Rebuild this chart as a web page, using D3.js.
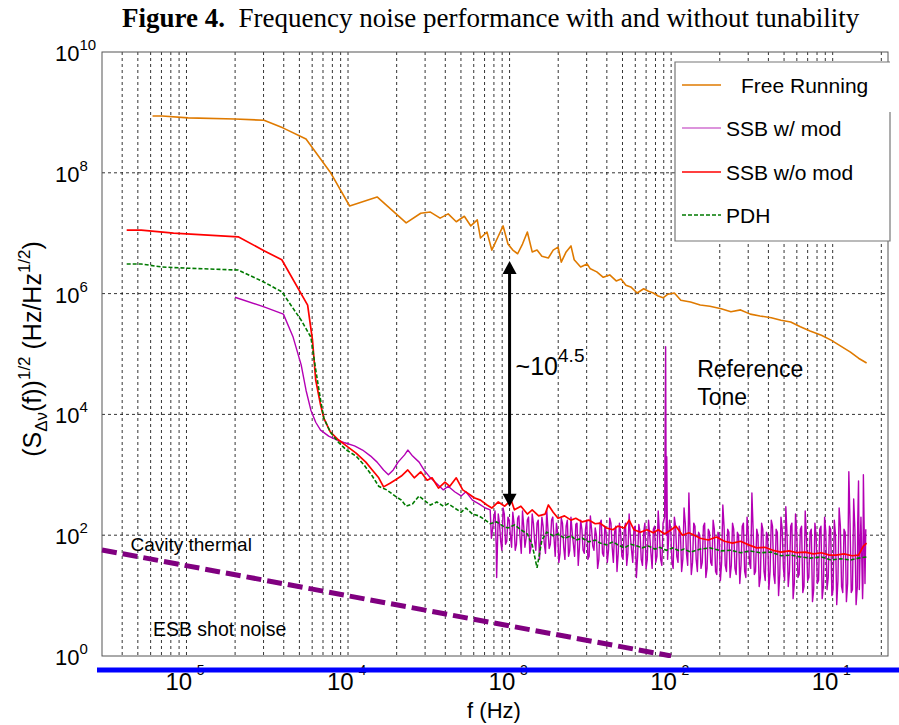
<!DOCTYPE html>
<html><head><meta charset="utf-8">
<script src="https://cdn.jsdelivr.net/npm/d3@7"></script>
<style>body{margin:0;background:#fff}text{white-space:pre}</style>
</head><body><svg id="c" width="899" height="725"></svg>
<script>
// ---------- DATA (log10 of frequency in Hz, log10 of noise in Hz/Hz^1/2) ----------
const freeRunLogF = [-5.21,-5.15,-4.99,-4.70,-4.52,-4.40,-4.26,-4.11,-3.99,-3.82,-3.64,-3.55,-3.49,-3.43,-3.38,-3.33,-3.28,-3.24,-3.20,-3.18,-3.14,-3.11,-3.07,-3.04,-3.01,-2.98,-2.95,-2.92,-2.89,-2.86,-2.83,-2.80,-2.76,-2.73,-2.70,-2.68,-2.65,-2.62,-2.60,-2.56,-2.52,-2.50,-2.46,-2.42,-2.38,-2.34,-2.31,-2.28,-2.25,-2.21,-2.17,-2.14,-2.11,-2.08,-2.05,-2.02,-1.98,-1.94,-1.88,-1.82,-1.76,-1.69,-1.63,-1.57,-1.51,-1.45,-1.38,-1.32,-1.26,-1.20,-1.14,-1.07,-1.01,-0.95,-0.89,-0.84,-0.79];
const freeRunLogS = [8.94,8.94,8.91,8.89,8.87,8.74,8.56,8.01,7.45,7.60,7.17,7.33,7.35,7.25,7.32,7.19,7.28,7.12,7.22,6.92,7.02,6.72,6.95,7.12,6.82,6.72,6.66,6.82,7.02,6.69,6.72,6.62,6.59,6.72,6.77,6.52,6.69,6.79,6.56,6.44,6.49,6.41,6.36,6.27,6.31,6.21,6.24,6.14,6.11,6.01,6.08,6.04,6.01,5.96,5.93,5.99,6.01,5.89,5.86,5.81,5.79,5.75,5.70,5.73,5.66,5.63,5.60,5.56,5.53,5.45,5.38,5.31,5.23,5.13,5.03,4.93,4.85];

const ssbModLogF = [-4.70,-4.52,-4.40,-4.34,-4.29,-4.26,-4.23,-4.20,-4.17,-4.12,-4.07,-4.02,-3.96,-3.91,-3.86,-3.82,-3.78,-3.75,-3.72,-3.69,-3.65,-3.63,-3.60,-3.56,-3.53,-3.49,-3.45,-3.41,-3.38,-3.34,-3.30,-3.27,-3.23,-3.19,-3.15];
const ssbModLogS = [5.94,5.78,5.66,5.28,4.82,4.40,4.07,3.87,3.74,3.64,3.58,3.53,3.48,3.41,3.31,3.21,3.08,3.00,3.08,3.21,3.33,3.41,3.31,3.21,3.08,2.95,2.85,2.75,2.81,2.72,2.65,2.72,2.58,2.52,2.45];
// noisy high-frequency part of "SSB w/ mod" [log f, log S]
const ssbModNoise = [
[-3.12,2.42],[-3.105,2.10],[-3.09,2.40],[-3.08,1.30],[-3.07,2.35],[-3.055,1.90],[-3.04,2.45],[-3.025,1.85],[-3.01,2.30],[-2.995,2.00],
[-2.98,2.38],[-2.965,1.75],[-2.95,2.28],[-2.935,1.95],[-2.92,2.40],[-2.905,1.80],[-2.89,2.25],[-2.875,1.70],[-2.86,2.35],[-2.845,1.90],
[-2.83,2.20],[-2.815,1.60],[-2.80,2.30],[-2.785,1.85],[-2.77,2.42],[-2.755,1.78],[-2.74,2.25],[-2.725,1.95],[-2.71,2.20],[-2.695,1.55],
[-2.68,2.28],[-2.665,1.80],[-2.65,2.15],[-2.635,1.65],[-2.62,2.30],[-2.605,1.85],[-2.59,2.18],[-2.575,1.50],[-2.56,2.25],[-2.545,1.75],
[-2.53,2.10],[-2.515,1.60],[-2.50,2.32],[-2.485,1.82],[-2.47,2.12],[-2.455,1.45],[-2.44,2.20],[-2.425,1.70],[-2.41,2.15],[-2.395,1.55],
[-2.38,2.28],[-2.365,1.80],[-2.35,2.05],[-2.335,1.40],[-2.32,2.20],[-2.305,1.65],[-2.29,2.10],[-2.275,1.50],[-2.26,2.35],[-2.245,1.75],
[-2.23,2.12],[-2.215,1.30],[-2.20,2.18],[-2.185,1.60],[-2.17,2.05],[-2.155,1.45],[-2.14,2.25],[-2.125,1.70],[-2.11,2.10],[-2.095,1.55],
[-2.08,2.40],[-2.065,1.60],[-2.05,2.20],[-2.04,2.30],[-2.034,5.12],[-2.03,2.00],[-2.027,3.30],[-2.022,1.60],[-2.01,2.25],[-1.995,1.55],
[-1.98,2.30],[-1.965,1.65],[-1.95,2.15],[-1.935,1.40],[-1.92,2.45],[-1.905,1.70],[-1.89,2.70],[-1.875,1.35],[-1.86,2.20],[-1.845,1.60],
[-1.83,2.05],[-1.815,1.45],[-1.80,2.15],[-1.785,1.30],[-1.77,2.10],[-1.755,1.55],[-1.74,2.25],[-1.725,1.40],[-1.71,2.05],[-1.695,1.25],
[-1.68,2.50],[-1.665,1.50],[-1.65,2.10],[-1.635,1.30],[-1.62,2.20],[-1.605,1.45],[-1.59,2.05],[-1.575,1.20],[-1.56,2.15],[-1.545,1.40],
[-1.53,2.30],[-1.515,1.55],[-1.50,2.70],[-1.485,1.35],[-1.47,2.10],[-1.455,1.15],[-1.44,2.20],[-1.425,1.40],[-1.41,2.05],[-1.395,1.10],
[-1.38,2.25],[-1.365,1.35],[-1.35,2.10],[-1.335,1.00],[-1.32,2.30],[-1.305,1.45],[-1.29,2.47],[-1.275,1.15],[-1.26,2.15],[-1.245,0.95],
[-1.23,2.35],[-1.215,1.30],[-1.20,2.10],[-1.185,1.05],[-1.17,2.40],[-1.155,1.25],[-1.14,2.05],[-1.125,0.90],[-1.11,2.20],[-1.095,1.20],
[-1.08,2.10],[-1.065,0.95],[-1.05,2.30],[-1.035,1.10],[-1.02,2.15],[-1.005,1.00],[-0.99,2.25],[-0.975,0.85],[-0.96,2.45],[-0.945,1.15],
[-0.93,2.10],[-0.915,0.90],[-0.90,3.05],[-0.885,1.05],[-0.87,2.60],[-0.855,0.85],[-0.845,2.20],[-0.84,2.90],[-0.835,1.10],[-0.825,2.30],
[-0.815,0.95],[-0.81,3.00],[-0.80,1.20],[-0.795,2.10]];
// further samples of the same noisy trace, between the ones above
const ssbModNoiseB = [
[-3.1125,1.95],[-3.0975,2.30],[-3.0825,1.80],[-3.0625,2.20],[-3.0475,1.75],[-3.0325,2.35],[-3.0175,1.90],[-3.0025,2.25],[-2.9875,1.80],
[-2.9725,2.20],[-2.9575,1.85],[-2.9425,2.32],[-2.9275,1.70],[-2.9125,2.15],[-2.8975,1.95],[-2.8825,2.30],[-2.8675,1.80],[-2.8525,2.20],[-2.8375,1.75],
[-2.8225,2.25],[-2.8075,1.90],[-2.7925,2.15],[-2.7775,1.70],[-2.7625,2.10],[-2.7475,1.85],[-2.7325,2.30],[-2.7175,1.65],[-2.7025,2.05],
[-2.6875,1.70],[-2.6725,2.20],[-2.6575,1.60],[-2.6425,2.25],[-2.6275,1.75],[-2.6125,2.05],[-2.5975,1.65],[-2.5825,2.20],[-2.5675,1.80],[-2.5525,2.10],
[-2.5375,1.70],[-2.5225,2.25],[-2.5075,1.65],[-2.4925,2.10],[-2.4775,1.75],[-2.4625,2.00],[-2.4475,1.60],[-2.4325,2.25],[-2.4175,1.65],[-2.4025,2.05],
[-2.3875,1.75],[-2.3725,2.20],[-2.3575,1.55],[-2.3425,2.15],[-2.3275,1.70],[-2.3125,2.05],[-2.2975,1.60],[-2.2825,2.20],[-2.2675,1.70],[-2.2525,2.00],
[-2.2375,1.55],[-2.2225,2.15],[-2.2075,1.65],[-2.1925,2.05],[-2.1775,1.50],[-2.1625,2.20],[-2.1475,1.60],[-2.1325,2.00],[-2.1175,1.45],[-2.1025,2.15],
[-2.0875,1.65],[-2.0725,2.05],[-2.0575,1.50],
[-2.0025,2.10],[-1.9875,1.45],[-1.9725,2.15],[-1.9575,1.55],[-1.9425,2.05],[-1.9275,1.60],[-1.9125,2.20],[-1.8975,1.50],[-1.8825,2.00],[-1.8675,1.55],
[-1.8525,2.15],[-1.8375,1.40],[-1.8225,2.00],[-1.8075,1.55],[-1.7925,2.20],[-1.7775,1.45],[-1.7625,2.05],[-1.7475,1.50],[-1.7325,2.10],[-1.7175,1.35],
[-1.7025,2.00],[-1.6875,1.55],[-1.6725,2.15],[-1.6575,1.40],[-1.6425,2.05],[-1.6275,1.50],[-1.6125,2.10],[-1.5975,1.35],[-1.5825,2.00],[-1.5675,1.50],
[-1.5525,2.20],[-1.5375,1.30],[-1.5225,2.05],[-1.5075,1.45],[-1.4925,2.10],[-1.4775,1.40],[-1.4625,2.00],[-1.4475,1.30],
[-1.4325,2.10],[-1.4175,1.25],[-1.4025,2.00],[-1.3875,1.40],[-1.3725,2.15],[-1.3575,1.20],[-1.3425,2.05],[-1.3275,1.35],[-1.3125,2.10],[-1.2975,1.25],
[-1.2825,2.00],[-1.2675,1.40],[-1.2525,2.20],[-1.2375,1.20],[-1.2225,2.05],[-1.2075,1.35],[-1.1925,2.15],[-1.1775,1.15],[-1.1625,2.00],[-1.1475,1.30],
[-1.1325,2.10],[-1.1175,1.10],[-1.1025,2.00],[-1.0875,1.25],[-1.0725,2.15],[-1.0575,1.15],[-1.0425,2.05],[-1.0275,1.30],[-1.0125,2.10],[-0.9975,1.10],
[-0.9825,2.00],[-0.9675,1.25],[-0.9525,2.15],[-0.9375,1.05],[-0.9225,2.05],[-0.9075,1.20],[-0.8925,2.20],[-0.8775,1.10],[-0.8625,2.10],[-0.8475,1.15],
[-0.8275,2.05],[-0.8125,1.20]];

const ssbNoModLogF = [-5.37,-5.28,-5.08,-4.68,-4.52,-4.41,-4.25,-4.22,-4.20,-4.17,-4.15,-4.11,-4.06,-4.01,-3.95,-3.89,-3.85,-3.81,-3.78,-3.74,-3.71,-3.67,-3.63,-3.59,-3.55,-3.51,-3.48,-3.44,-3.40,-3.37,-3.33,-3.29,-3.25,-3.22,-3.18,-3.14,-3.11,-3.07,-3.03,-2.99,-2.97,-2.93,-2.89,-2.86,-2.82,-2.78,-2.76,-2.73,-2.70,-2.66,-2.62,-2.59,-2.55,-2.51,-2.47,-2.44,-2.40,-2.36,-2.33,-2.29,-2.26,-2.23,-2.19,-2.15,-2.11,-2.08,-2.04,-2.00,-1.97,-1.93,-1.89,-1.85,-1.82,-1.77,-1.72,-1.67,-1.62,-1.57,-1.52,-1.47,-1.42,-1.37,-1.32,-1.27,-1.22,-1.17,-1.12,-1.07,-1.02,-0.98,-0.93,-0.88,-0.84,-0.81,-0.79];
const ssbNoModLogS = [7.05,7.05,7.00,6.94,6.71,6.56,5.81,5.23,4.57,4.16,3.94,3.71,3.58,3.48,3.36,3.21,3.08,2.95,2.80,2.86,2.91,2.98,3.08,2.95,3.05,2.91,2.95,2.78,2.88,2.81,2.95,2.75,2.68,2.62,2.58,2.50,2.45,2.55,2.48,2.58,2.42,2.48,2.35,2.42,2.32,2.35,2.50,2.38,2.28,2.32,2.25,2.28,2.22,2.25,2.19,2.20,2.12,2.09,2.15,2.12,2.25,2.09,2.05,2.09,2.04,2.09,2.02,2.09,2.15,2.00,2.04,1.99,1.95,1.92,1.97,1.90,1.87,1.90,1.84,1.79,1.80,1.75,1.72,1.74,1.71,1.72,1.69,1.71,1.67,1.67,1.69,1.66,1.67,1.82,1.87];

const pdhLogF = [-5.37,-5.28,-5.15,-4.99,-4.68,-4.52,-4.41,-4.29,-4.23,-4.20,-4.17,-4.15,-4.11,-4.06,-4.01,-3.95,-3.90,-3.85,-3.81,-3.76,-3.71,-3.67,-3.64,-3.60,-3.56,-3.53,-3.49,-3.45,-3.41,-3.38,-3.34,-3.30,-3.27,-3.23,-3.19,-3.15,-3.12,-3.08,-3.04,-3.01,-2.97,-2.93,-2.89,-2.86,-2.83,-2.80,-2.77,-2.73,-2.70,-2.66,-2.62,-2.59,-2.55,-2.51,-2.47,-2.44,-2.40,-2.36,-2.33,-2.29,-2.25,-2.21,-2.18,-2.14,-2.10,-2.07,-2.03,-1.99,-1.95,-1.92,-1.88,-1.82,-1.76,-1.69,-1.63,-1.57,-1.51,-1.45,-1.38,-1.32,-1.26,-1.20,-1.14,-1.07,-1.01,-0.95,-0.89,-0.84,-0.79];
const pdhLogS = [6.49,6.49,6.44,6.42,6.39,6.19,6.03,5.56,5.28,4.74,4.24,3.94,3.71,3.54,3.41,3.31,3.16,2.98,2.81,2.75,2.65,2.58,2.48,2.52,2.65,2.58,2.50,2.55,2.48,2.52,2.45,2.38,2.45,2.35,2.32,2.25,2.19,2.22,2.15,2.12,2.17,2.09,2.02,1.84,1.46,1.92,2.05,1.99,2.02,1.95,1.99,1.92,1.95,1.89,1.92,1.87,1.84,1.89,1.84,1.79,1.85,1.82,1.79,1.82,1.77,1.80,1.75,1.79,1.74,1.77,1.72,1.77,1.79,1.74,1.75,1.71,1.74,1.71,1.72,1.66,1.67,1.64,1.62,1.64,1.59,1.61,1.59,1.62,1.64];

// cavity thermal noise limit (straight line on log-log)
const thermalF = [3e-6, 1e-2];
const thermalS = [57, 1];

// axis ticks
const xTickExp = [-5, -4, -3, -2, -1];
const yTickExp = [0, 2, 4, 6, 8, 10];
const legendNames = ["Free Running", "SSB w/ mod", "SSB w/o mod", "PDH"];

// annotation anchors in data space
const arrowF = 1e-3, arrowTop = Math.pow(10, 6.54), arrowBottom = Math.pow(10, 2.47);

// ---------- CHART ----------
const svg = d3.select("#c");
const L = 102, R = 888, T = 52, B = 656;
const x = d3.scaleLog().domain([3e-6, 0.22]).range([L, R]);
const y = d3.scaleLog().domain([1, 1e10]).range([B, T]);
const SANS = "'Liberation Sans', Arial, sans-serif";

// title
const title = svg.append("text").attr("x", 122).attr("y", 27)
  .attr("font-family", "'Liberation Serif', 'Times New Roman', serif").attr("font-size", 27).attr("fill", "#000");
title.append("tspan").attr("font-weight", "bold").text("Figure 4.");
title.append("tspan").text("  Frequency noise performance with and without tunability");

// grid
const grid = svg.append("g");
const minor = [];
for (let e = -6; e <= 0; e++) for (let k = 1; k <= 9; k++) {
  const v = k * Math.pow(10, e);
  if (v > 3.05e-6 && v < 0.215) minor.push(v);
}
grid.selectAll("line.vx").data(minor).join("line")
  .attr("x1", d => x(d)).attr("x2", d => x(d)).attr("y1", T).attr("y2", B)
  .attr("stroke", "#000").attr("stroke-width", 0.8).attr("stroke-dasharray", "3,3");
grid.selectAll("line.hy").data([2, 4, 6, 8]).join("line")
  .attr("x1", L).attr("x2", R).attr("y1", d => y(Math.pow(10, d))).attr("y2", d => y(Math.pow(10, d)))
  .attr("stroke", "#000").attr("stroke-width", 0.8).attr("stroke-dasharray", "3,3");

// frame
svg.append("rect").attr("x", L).attr("y", T).attr("width", R - L).attr("height", B - T)
  .attr("fill", "none").attr("stroke", "#555").attr("stroke-width", 1);

// clip
svg.append("clipPath").attr("id", "clip").append("rect").attr("x", L - 6).attr("y", T).attr("width", R - L + 6).attr("height", B - T + 2);
const plot = svg.append("g").attr("clip-path", "url(#clip)");

const line = d3.line().x(d => x(d[0])).y(d => y(d[1]));
const fromLog = (F, S) => d3.zip(F, S).map(([a, b]) => [Math.pow(10, a), Math.pow(10, b)]);
const pairs = P => P.map(([a, b]) => [Math.pow(10, a), Math.pow(10, b)]);

// thermal
plot.append("path").datum(d3.zip(thermalF, thermalS)).attr("d", line)
  .attr("fill", "none").attr("stroke", "#800080").attr("stroke-width", 5).attr("stroke-dasharray", "15,6");

// free running
plot.append("path").datum(fromLog(freeRunLogF, freeRunLogS)).attr("d", line)
  .attr("fill", "none").attr("stroke", "#df7a00").attr("stroke-width", 1.6).attr("stroke-linejoin", "round");
// SSB w/ mod
const noisy = pairs(ssbModNoise.concat(ssbModNoiseB)).sort((a, b) => a[0] - b[0]);
const modAll = fromLog(ssbModLogF, ssbModLogS).concat(noisy);
plot.append("path").datum(modAll).attr("d", line)
  .attr("fill", "none").attr("stroke", "#b400b4").attr("stroke-width", 1.4).attr("stroke-linejoin", "round");
// SSB w/o mod
plot.append("path").datum(fromLog(ssbNoModLogF, ssbNoModLogS)).attr("d", line)
  .attr("fill", "none").attr("stroke", "#ff0000").attr("stroke-width", 1.7).attr("stroke-linejoin", "round");
// PDH
plot.append("path").datum(fromLog(pdhLogF, pdhLogS)).attr("d", line)
  .attr("fill", "none").attr("stroke", "#007a00").attr("stroke-width", 1.6).attr("stroke-dasharray", "4,2");

// y tick labels
const yl = svg.append("g").attr("font-family", SANS).attr("fill", "#000");
yTickExp.forEach(e => {
  const t = yl.append("text").attr("x", 55).attr("y", y(Math.pow(10, e)) + 9).attr("font-size", 22);
  t.append("tspan").text("10");
  t.append("tspan").attr("font-size", 15).attr("dy", -11).text(String(e));
});

// x tick labels (the blue line drawn afterwards hides their minus signs, like the original)
const xl = svg.append("g").attr("font-family", SANS).attr("fill", "#000");
xTickExp.forEach(e => {
  const t = xl.append("text").attr("x", x(Math.pow(10, e)) - 21).attr("y", 690).attr("font-size", 24);
  t.append("tspan").text("10");
  t.append("tspan").attr("font-size", 14).attr("dy", -15).text("-" + Math.abs(e));
});

// blue base line
svg.append("line").attr("x1", 97).attr("x2", 899).attr("y1", B + 14).attr("y2", B + 14)
  .attr("stroke", "#0000ff").attr("stroke-width", 5);

// x axis title
svg.append("text").attr("x", 494).attr("y", 718).attr("text-anchor", "middle")
  .attr("font-family", SANS).attr("font-size", 22).text("f (Hz)");

// y axis title
const yt = svg.append("text").attr("transform", "translate(41,349) rotate(-90)").attr("text-anchor", "middle")
  .attr("font-family", SANS).attr("font-size", 25);
yt.append("tspan").text("(S");
yt.append("tspan").attr("font-size", 17).attr("dy", 6).text("Δν");
yt.append("tspan").attr("dy", -6).text("(f))");
yt.append("tspan").attr("font-size", 17).attr("dy", -11).text("1/2");
yt.append("tspan").attr("dy", 11).text(" (Hz/Hz");
yt.append("tspan").attr("font-size", 17).attr("dy", -11).text("1/2");
yt.append("tspan").attr("dy", 11).text(")");

// legend
const lg = svg.append("g").attr("font-family", SANS).attr("font-size", 21);
lg.append("rect").attr("x", 675).attr("y", 62).attr("width", 215).attr("height", 179).attr("fill", "#fff");
lg.append("path").attr("d", "M890,112 V241 H675 V62 H890").attr("fill", "none").attr("stroke", "#777").attr("stroke-width", 1.2);
const legColors = ["#df7a00", "#d070d0", "#ff0000", "#007a00"];
const legY = [85, 128, 172, 215];
legendNames.forEach((n, i) => {
  lg.append("line").attr("x1", 682).attr("x2", 721).attr("y1", legY[i]).attr("y2", legY[i])
    .attr("stroke", legColors[i]).attr("stroke-width", 1.6).attr("stroke-dasharray", i === 3 ? "4,2" : null);
  lg.append("text").attr("x", i === 0 ? 741 : 726).attr("y", legY[i] + 8).text(n);
});

// annotations
const ann = svg.append("g").attr("font-family", SANS).attr("fill", "#000");
ann.append("text").attr("x", x(4.5e-6)).attr("y", y(55)).attr("font-size", 19).text("Cavity thermal");
ann.append("text").attr("x", x(6.2e-6)).attr("y", y(2.14)).attr("font-size", 19.5).text("ESB shot noise");
const rt = ann.append("text").attr("font-size", 23);
rt.append("tspan").attr("x", x(1.45e-2)).attr("y", y(4.2e4)).text("Reference");
rt.append("tspan").attr("x", x(1.45e-2)).attr("y", y(1.43e4)).text("Tone");
const tt = ann.append("text").attr("x", x(1.09e-3)).attr("y", y(4.47e4)).attr("font-size", 25);
tt.append("tspan").text("~10");
tt.append("tspan").attr("font-size", 19).attr("dy", -13).text("4.5");

// arrow
const ax = x(arrowF), yTop = y(arrowTop), yBot = y(arrowBottom);
ann.append("line").attr("x1", ax).attr("x2", ax).attr("y1", yTop + 10).attr("y2", yBot - 10)
  .attr("stroke", "#000").attr("stroke-width", 3);
ann.append("path").attr("d", `M${ax},${yTop} l-7,13 h14 z`).attr("fill", "#000");
ann.append("path").attr("d", `M${ax},${yBot} l-7,-13 h14 z`).attr("fill", "#000");
</script></body></html>
